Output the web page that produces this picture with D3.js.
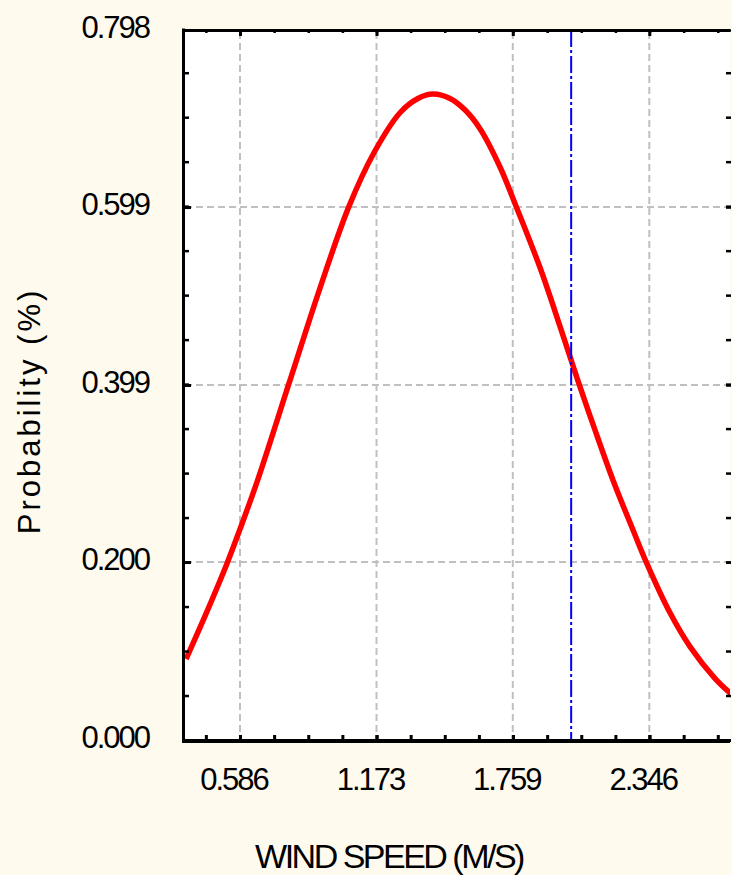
<!DOCTYPE html>
<html>
<head>
<meta charset="utf-8">
<script src="https://cdn.jsdelivr.net/npm/d3@7"></script>
<style>
  body { margin: 0; background: #fefaee; }
  text { font-family: "Liberation Sans", Arial, sans-serif; fill: #000; }
</style>
</head>
<body>
<div id="chart"></div>
<script>
// values
var speeds = [0.354, 0.440, 0.528, 0.586, 0.663, 0.797, 0.930, 1.055, 1.162, 1.274, 1.351, 1.416, 1.489, 1.554, 1.618, 1.704, 1.773, 1.876, 1.962, 2.039, 2.113, 2.190, 2.276, 2.336, 2.435, 2.521, 2.629, 2.697];
var probs  = [0.091, 0.142, 0.197, 0.237, 0.293, 0.401, 0.508, 0.600, 0.660, 0.705, 0.721, 0.726, 0.721, 0.708, 0.687, 0.644, 0.600, 0.531, 0.465, 0.404, 0.348, 0.292, 0.236, 0.198, 0.143, 0.105, 0.069, 0.052];
var xTicks = [0.586, 1.173, 1.759, 2.346];
var yTicks = [0.000, 0.200, 0.399, 0.599, 0.798];
var cutoff = 2.01;

var W = 732, H = 875;
var pL = 185, pR = 730, pT = 30, pB = 740;

var svg = d3.select("#chart").append("svg")
  .attr("width", W)
  .attr("height", H);

var x = d3.scaleLinear().domain([0.3495, 2.693]).range([pL, pR]);
var y = d3.scaleLinear().domain([0, 0.798]).range([pB, pT]);

var xStep = (xTicks[1] - xTicks[0]) / 4;
var yStep = (yTicks[1] - yTicks[0]) / 4;
var xMinor = d3.range(-1, 15).map(i => xTicks[0] + i * xStep).filter(v => v > x.domain()[0] && v < x.domain()[1]);
var yMinor = d3.range(0, 17).map(i => i * yStep).filter(v => v < 0.796);

svg.append("defs").append("clipPath").attr("id", "plot")
  .append("rect").attr("x", pL).attr("y", pT).attr("width", pR - pL).attr("height", pB - pT);

svg.append("rect")
  .attr("x", pL).attr("y", pT)
  .attr("width", pR - pL).attr("height", pB - pT)
  .attr("fill", "#fff");

// grid
svg.append("g").selectAll("line")
  .data(xTicks).enter().append("line")
  .attr("x1", d => x(d)).attr("x2", d => x(d))
  .attr("y1", pT + 2).attr("y2", pB)
  .attr("stroke", "#c0c0c0").attr("stroke-width", 2).attr("stroke-dasharray", "7,4");

svg.append("g").selectAll("line")
  .data(yTicks.slice(1, -1)).enter().append("line")
  .attr("x1", pL).attr("x2", pR)
  .attr("y1", d => y(d)).attr("y2", d => y(d))
  .attr("stroke", "#c0c0c0").attr("stroke-width", 2).attr("stroke-dasharray", "7,4");

// curve
var line = d3.line()
  .x((d, i) => x(speeds[i]))
  .y(d => y(d))
  .curve(d3.curveCatmullRom);

svg.append("path")
  .datum(probs)
  .attr("clip-path", "url(#plot)")
  .attr("d", line)
  .attr("fill", "none")
  .attr("stroke", "#ff0000")
  .attr("stroke-width", 5.5);

// cutoff line
svg.append("line")
  .attr("x1", x(cutoff)).attr("x2", x(cutoff))
  .attr("y1", pT).attr("y2", pB)
  .attr("stroke", "#0000ff").attr("stroke-width", 2)
  .attr("stroke-dasharray", "17,3,3,3");

// ticks (pointing inward)
function tickAxis(axis, values, size, tr, w) {
  var g = svg.append("g")
    .attr("transform", tr)
    .call(axis.tickValues(values).tickSize(-size).tickFormat(""));
  g.select(".domain").remove();
  g.selectAll(".tick line").attr("stroke", "#000").attr("stroke-width", w);
}
tickAxis(d3.axisLeft(y), yTicks, 6, `translate(${pL},0)`, 3);
tickAxis(d3.axisLeft(y), yMinor, 4, `translate(${pL},0)`, 2.5);
tickAxis(d3.axisRight(y), yMinor.concat(yTicks), 5, `translate(${pR + 1},0)`, 2.5);
tickAxis(d3.axisBottom(x), xMinor.concat(xTicks), 5, `translate(0,${pB})`, 3);
tickAxis(d3.axisTop(x), xTicks, 6, `translate(0,${pT})`, 3);
tickAxis(d3.axisTop(x), xMinor, 3, `translate(0,${pT})`, 2.5);

// frame lines
svg.append("line").attr("x1", pL - 1.5).attr("x2", pL - 1.5).attr("y1", pT - 1.5).attr("y2", pB + 3)
  .attr("stroke", "#000").attr("stroke-width", 3);
svg.append("line").attr("x1", pL - 3).attr("x2", pR).attr("y1", pB + 1).attr("y2", pB + 1)
  .attr("stroke", "#000").attr("stroke-width", 4);
svg.append("line").attr("x1", pL - 3).attr("x2", pR).attr("y1", pT + 0.5).attr("y2", pT + 0.5)
  .attr("stroke", "#000").attr("stroke-width", 3);

// tick labels
var fmt = d3.format(".3f");
svg.append("g").selectAll("text")
  .data(yTicks).enter().append("text")
  .attr("x", 149)
  .attr("y", d => y(d) + 8)
  .attr("text-anchor", "end")
  .style("font-size", "31px")
  .style("letter-spacing", "-2px")
  .text(d => fmt(d));

svg.append("g").selectAll("text")
  .data(xTicks).enter().append("text")
  .attr("x", d => x(d) - 6)
  .attr("y", 790)
  .attr("text-anchor", "middle")
  .style("font-size", "31px")
  .style("letter-spacing", "-2px")
  .text(d => fmt(d));

// axis titles
svg.append("text")
  .attr("x", 389).attr("y", 868)
  .attr("text-anchor", "middle")
  .style("font-size", "34px")
  .style("letter-spacing", "-2.5px")
  .text("WIND SPEED (M/S)");

svg.append("text")
  .attr("transform", "translate(40,411) rotate(-90)")
  .attr("text-anchor", "middle")
  .style("font-size", "31px")
  .style("letter-spacing", "3px")
  .text("Probability (%)");
</script>
</body>
</html>
